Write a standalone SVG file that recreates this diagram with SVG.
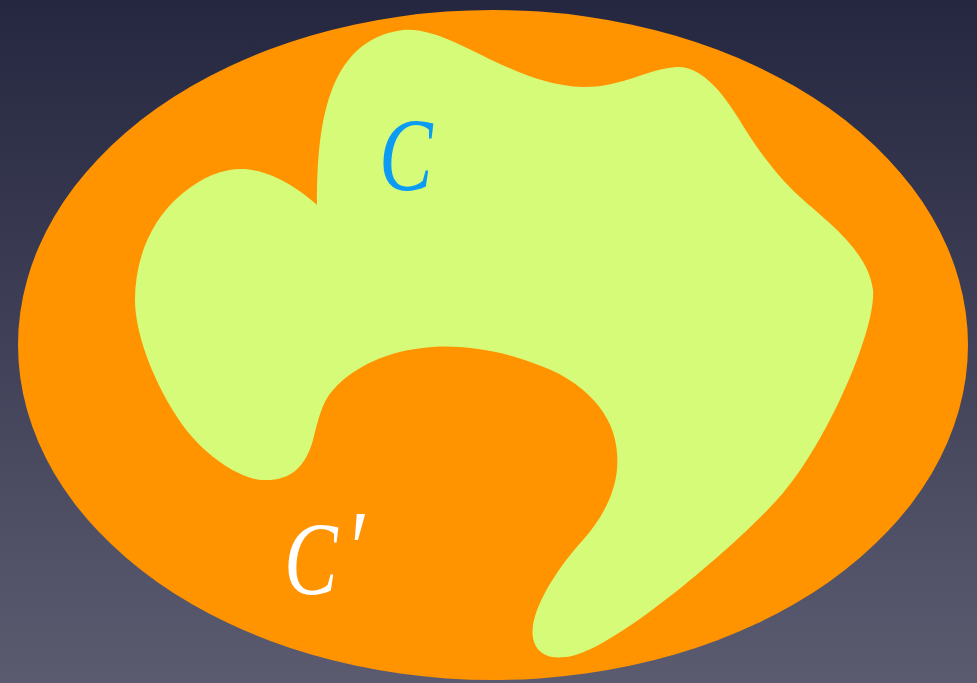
<svg xmlns="http://www.w3.org/2000/svg" width="977" height="683" viewBox="0 0 977 683">
<defs>
<linearGradient id="bg" x1="0" y1="0" x2="0" y2="1">
<stop offset="0" stop-color="#252740"/>
<stop offset="1" stop-color="#5b5b70"/>
</linearGradient>
</defs>
<style>
.lbl{font-family:"Liberation Serif","Times New Roman",serif;font-style:italic;font-size:103px}
</style>
<rect width="977" height="683" fill="url(#bg)"/>
<g id="outer">
<ellipse cx="493" cy="345" rx="475" ry="335" fill="#FF9400"/>
</g>
<g id="inner">
<path fill="#D6FB79" d="M317,205 C317,130 325,40 403,30 C450,25 510,85 583,87 C620,88 650,68 677,67 C700,66 720,90 733,110 C745,128 765,165 800,197 C825,220 868,250 873,290 C876,330 828,440 783,493 C745,538 610,655 565,657 C540,660 530,645 533,625 C537,600 560,565 583,540 C605,515 620,485 617,453 C615,415 585,380 533,363 C500,350 460,345 433,347 C400,349 360,360 333,390 C322,402 318,420 313,440 C305,468 290,481 263,480 C245,480 205,460 177,417 C150,375 135,330 135,300 C135,260 150,220 183,193 C205,175 225,168 245,169 C275,172 300,190 317,205 Z"/>
</g>
<g id="labels">
<text class="lbl" transform="translate(379,190) scale(0.78,1)" fill="#0A9BF5">C</text>
<text class="lbl" transform="translate(284,594) scale(0.78,1)" fill="#FFFFFF">C<tspan font-size="110" dx="10" dy="-8">′</tspan></text>
</g>
</svg>
